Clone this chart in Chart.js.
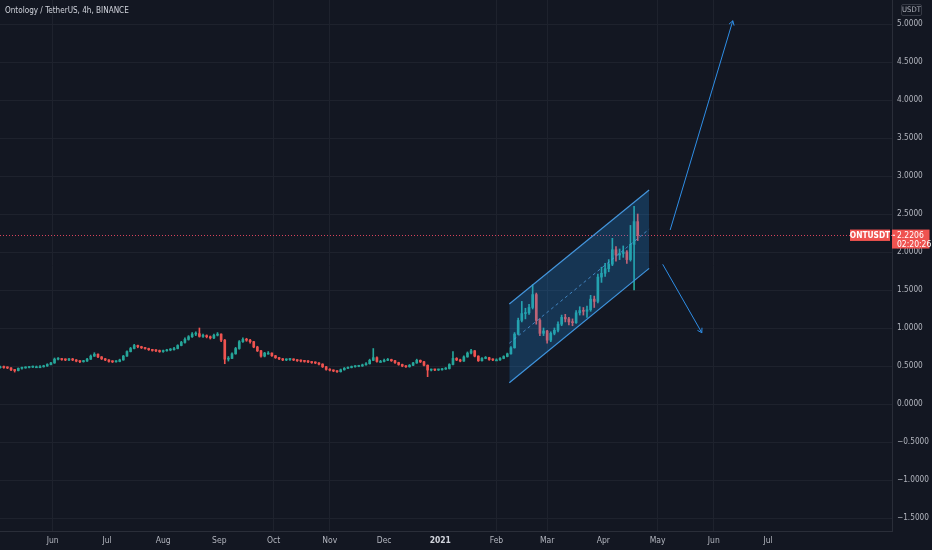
<!DOCTYPE html>
<html><head><meta charset="utf-8">
<style>
html,body{margin:0;padding:0;background:#131722;overflow:hidden}
#wrap{position:relative;width:932px;height:550px}
#c{position:absolute;left:0;top:0}
#title{position:absolute;left:5px;top:5px;font:8.1px "Liberation Sans Narrow","DejaVu Sans Condensed","Liberation Sans",sans-serif;line-height:10px;color:#d1d4dc;white-space:nowrap}
#unit{position:absolute;left:901px;top:4px;width:21px;height:12px;border:1px solid #363a45;border-radius:2px;box-sizing:border-box;font:7.6px "Liberation Sans Narrow","DejaVu Sans Condensed",sans-serif;color:#b2b5be;text-align:center;line-height:10px}
</style>
<script src="https://cdn.jsdelivr.net/npm/chart.js@4.4.0/dist/chart.umd.min.js"></script>
</head><body>
<div id="wrap"><canvas id="c" width="932" height="550"></canvas>
<div id="title">Ontology / TetherUS, 4h, BINANCE</div><div id="unit">USDT</div></div>
<script>
// ---- data (day 0 = 1 Jun 2020, candles every 2 days) ----
const firstCandleDay = -29;
const candleStepDays = 2;
const opens = [.49,.49,.48,.475,.45,.44,.47,.475,.48,.485,
.49,.49,.49,.50,.52,.54,.59,.595,.585,.58,
.59,.58,.565,.557,.565,.59,.63,.655,.62,.595,
.58,.56,.555,.56,.58,.63,.69,.73,.77,.755,
.74,.73,.715,.705,.70,.69,.70,.71,.715,.73,
.77,.81,.85,.885,.92,.925,.89,.90,.885,.87,
.905,.92,.84,.59,.60,.66,.73,.82,.85,.84,
.82,.75,.70,.63,.67,.67,.635,.61,.595,.58,
.585,.59,.58,.57,.565,.56,.555,.545,.54,.525,
.49,.455,.445,.435,.425,.45,.47,.48,.49,.495,
.50,.515,.53,.575,.61,.56,.56,.575,.585,.57,
.545,.52,.50,.49,.51,.54,.575,.555,.51,.447,
.45,.448,.45,.46,.467,.52,.60,.58,.565,.62,
.67,.70,.63,.57,.60,.61,.585,.58,.58,.60,
.625,.66,.74,.92,1.10,1.19,1.20,1.27,1.44,1.10,
.93,.96,.84,.93,.97,1.05,1.14,1.12,1.08,1.07,
1.20,1.23,1.22,1.24,1.38,1.35,1.67,1.72,1.78,1.84,
2.03,1.96,1.98,2.00,1.90,2.10,2.40];
const highs = [.50,.50,.49,.48,.455,.475,.485,.49,.495,.50,
.50,.505,.51,.53,.55,.605,.61,.60,.595,.60,
.60,.585,.57,.575,.60,.645,.675,.66,.625,.60,
.585,.57,.57,.59,.64,.70,.745,.785,.775,.76,
.745,.735,.72,.715,.71,.71,.72,.73,.745,.78,
.825,.87,.90,.94,.95,1.00,.92,.91,.895,.92,
.94,.925,.85,.625,.675,.745,.835,.87,.865,.85,
.825,.76,.705,.68,.69,.675,.64,.615,.60,.595,
.60,.595,.585,.58,.575,.57,.56,.555,.545,.53,
.495,.465,.45,.44,.46,.48,.49,.50,.505,.51,
.525,.545,.59,.73,.62,.575,.59,.60,.59,.575,
.55,.525,.505,.52,.55,.59,.58,.56,.515,.46,
.46,.46,.47,.48,.53,.69,.61,.59,.635,.685,
.72,.705,.635,.61,.625,.615,.595,.595,.61,.635,
.67,.755,.94,1.13,1.35,1.26,1.31,1.57,1.46,1.12,
1.00,.97,.95,1.00,1.08,1.17,1.18,1.14,1.12,1.23,
1.28,1.27,1.29,1.43,1.42,1.71,1.80,1.85,1.90,2.18,
2.07,2.04,2.08,2.02,2.35,2.60,2.50];
const lows = [.47,.47,.465,.44,.42,.435,.46,.47,.475,.48,
.48,.48,.485,.495,.515,.535,.58,.575,.57,.57,
.57,.555,.545,.55,.56,.585,.625,.61,.585,.57,
.55,.545,.55,.555,.575,.625,.685,.725,.74,.73,
.72,.705,.695,.69,.68,.68,.695,.70,.71,.725,
.765,.80,.84,.875,.90,.88,.875,.87,.855,.86,
.895,.82,.53,.565,.595,.655,.72,.81,.825,.80,
.74,.69,.615,.62,.655,.625,.60,.585,.57,.57,
.575,.57,.56,.555,.55,.545,.535,.53,.515,.48,
.445,.435,.425,.415,.42,.445,.465,.475,.485,.49,
.495,.51,.525,.57,.55,.55,.555,.57,.56,.535,
.51,.49,.48,.485,.505,.535,.545,.50,.36,.435,
.44,.44,.445,.455,.46,.515,.57,.555,.56,.615,
.66,.62,.56,.565,.595,.575,.57,.57,.575,.595,
.62,.655,.735,.91,1.08,1.12,1.18,1.25,1.05,.90,
.90,.80,.82,.91,.95,1.03,1.08,1.04,1.03,1.06,
1.17,1.17,1.14,1.22,1.27,1.33,1.60,1.68,1.74,1.82,
1.88,1.90,1.93,1.85,1.88,1.50,2.15];
const closes = [.49,.48,.475,.45,.44,.47,.475,.48,.485,.49,
.49,.49,.50,.52,.54,.59,.595,.585,.58,.59,
.58,.565,.557,.565,.59,.63,.655,.62,.595,.58,
.56,.555,.56,.58,.63,.69,.73,.77,.755,.74,
.73,.715,.705,.70,.69,.70,.71,.715,.73,.77,
.81,.85,.885,.92,.925,.89,.90,.885,.87,.905,
.92,.84,.59,.60,.66,.73,.82,.85,.84,.82,
.75,.70,.63,.67,.67,.635,.61,.595,.58,.585,
.59,.58,.57,.565,.56,.555,.545,.54,.525,.49,
.455,.445,.435,.425,.45,.47,.48,.49,.495,.50,
.515,.53,.575,.61,.56,.56,.575,.585,.57,.545,
.52,.50,.49,.51,.54,.575,.555,.51,.447,.45,
.448,.45,.46,.467,.52,.60,.58,.565,.62,.67,
.70,.63,.57,.60,.61,.585,.58,.58,.60,.625,
.66,.74,.92,1.10,1.19,1.20,1.27,1.44,1.10,.93,
.96,.84,.93,.97,1.05,1.14,1.12,1.08,1.07,1.20,
1.23,1.22,1.24,1.38,1.35,1.67,1.72,1.78,1.84,2.03,
1.96,1.98,2.00,1.90,2.10,2.40,2.22];
const lastPrice = 2.2206;
const lastPriceText = "2.2206";
const countdownText = "02:20:26";
const symbolText = "ONTUSDT";

// drawings (day, price)
const channelDays = [252.1, 329.3];
const channelUpper = [1.315, 2.816];
const channelLower = [0.28, 1.785];
const channelMid = [0.80, 2.30];
const arrowUpDays = [340.9, 375.5];
const arrowUpPrices = [2.289, 5.043];
const arrowDownDays = [336.8, 358.4];
const arrowDownPrices = [1.838, 0.938];

// axes
const monthDays = [0,30,61,92,122,153,183,214,245,273,304,334,365,395];
const monthLabels = ["Jun","Jul","Aug","Sep","Oct","Nov","Dec","2021","Feb","Mar","Apr","May","Jun","Jul"];
const yTickValues = [5,4.5,4,3.5,3,2.5,2,1.5,1,0.5,0,-0.5,-1,-1.5];
const yTickLabels = ["5.0000","4.5000","4.0000","3.5000","3.0000","2.5000","2.0000","1.5000","1.0000","0.5000","0.0000","\u22120.5000","\u22121.0000","\u22121.5000"];

// ---- build ----
const UP = '#26a69a', DOWN = '#ef5350';
const FONT = '"Liberation Sans Narrow","DejaVu Sans Condensed","Liberation Sans",sans-serif';
const candleDays = closes.map((_, i) => firstCandleDay + i * candleStepDays);
const dirColors = closes.map((c, i) => c >= opens[i] ? UP : DOWN);
const wickData = candleDays.map((d, i) => ({x: d, y: [lows[i], highs[i]]}));
const bodyData = candleDays.map((d, i) => ({x: d, y: [opens[i], closes[i]]}));
const pts = (xs, ys) => xs.map((x, i) => ({x, y: ys[i]}));
const gridMonthIdx = [0,4,5,8,9,11,12];

const pricePlugin = {
  id: 'priceLine',
  beforeDatasetsDraw(chart) {
    const {ctx, chartArea, scales} = chart;
    const py = Math.round(scales.y.getPixelForValue(lastPrice)) + 0.5;
    ctx.save();
    ctx.strokeStyle = 'rgba(226,70,96,0.95)';
    ctx.lineWidth = 1;
    ctx.setLineDash([1, 2]);
    ctx.beginPath(); ctx.moveTo(chartArea.left, py); ctx.lineTo(chartArea.right, py); ctx.stroke();
    ctx.restore();
  },
  afterDraw(chart) {
    const {ctx, chartArea, scales} = chart;
    const py = scales.y.getPixelForValue(lastPrice);
    ctx.save();
    ctx.fillStyle = '#ef5350';
    ctx.fillRect(chartArea.right - 42, py - 5.7, 40, 11.4);
    ctx.fillRect(chartArea.right, py - 5.7, 37.5, 19);
    ctx.fillStyle = '#ffffff';
    ctx.fillRect(chartArea.right + 0.5, py - 0.5, 2.5, 1);
    ctx.font = 'bold 8.3px ' + FONT;
    ctx.textBaseline = 'middle';
    ctx.textAlign = 'center';
    ctx.fillText(symbolText, chartArea.right - 22, py + 0.3);
    ctx.font = '8.5px ' + FONT;
    ctx.textAlign = 'left';
    ctx.fillText(lastPriceText, chartArea.right + 5, py + 0.5);
    ctx.fillText(countdownText, chartArea.right + 5, py + 9.8);
    ctx.restore();
  }
};
const arrowPlugin = {
  id: 'arrows',
  afterDatasetsDraw(chart) {
    const ctx = chart.ctx;
    [3, 4].forEach(i => {
      const p = chart.getDatasetMeta(i).data;
      const a = p[0], b = p[1];
      const ang = Math.atan2(b.y - a.y, b.x - a.x);
      const L = 5, w = 0.55;
      ctx.save();
      ctx.strokeStyle = '#2f8ee6'; ctx.lineWidth = 1;
      ctx.beginPath();
      ctx.moveTo(b.x - L * Math.cos(ang - w), b.y - L * Math.sin(ang - w));
      ctx.lineTo(b.x, b.y);
      ctx.lineTo(b.x - L * Math.cos(ang + w), b.y - L * Math.sin(ang + w));
      ctx.stroke();
      ctx.restore();
    });
  }
};

new Chart(document.getElementById('c'), {
  type: 'bar',
  data: {
    datasets: [
      {type: 'line', data: pts(channelDays, channelUpper), borderColor: '#4496dd', borderWidth: 1.2, pointRadius: 0,
       fill: {target: 1}, backgroundColor: 'rgba(33,150,243,0.24)', order: 0},
      {type: 'line', data: pts(channelDays, channelLower), borderColor: '#4496dd', borderWidth: 1.2, pointRadius: 0, fill: false, order: 0},
      {type: 'line', data: pts(channelDays, channelMid), borderColor: 'rgba(100,170,235,0.7)', borderWidth: 1, borderDash: [3, 3], pointRadius: 0, fill: false, order: 0},
      {type: 'line', data: pts(arrowUpDays, arrowUpPrices), borderColor: '#2f8ee6', borderWidth: 1, pointRadius: 0, fill: false, order: 0},
      {type: 'line', data: pts(arrowDownDays, arrowDownPrices), borderColor: '#2f8ee6', borderWidth: 1, pointRadius: 0, fill: false, order: 0},
      {data: wickData, backgroundColor: dirColors, barThickness: 1, grouped: false, order: 5},
      {data: bodyData, backgroundColor: dirColors, barThickness: 2, minBarLength: 1, grouped: false, order: 4}
    ]
  },
  options: {
    responsive: false,
    animation: false,
    events: [],
    layout: {padding: 0},
    plugins: {legend: {display: false}, tooltip: {enabled: false}, title: {display: false}},
    scales: {
      x: {
        type: 'linear', position: 'bottom', min: -29.1, max: 463.4, offset: false,
        afterBuildTicks: s => { s.ticks = monthDays.map(v => ({value: v})); },
        afterFit: s => { s.height = 19; s.paddingLeft = 0; s.paddingRight = 0; },
        grid: {offset: false, drawTicks: false, color: c => gridMonthIdx.includes(c.index) ? '#1e222d' : 'rgba(0,0,0,0)', lineWidth: 1},
        border: {display: true, color: '#2a2e39'},
        ticks: {
          autoSkip: false, maxRotation: 0, minRotation: 0, padding: 5,
          callback: (v, i) => monthLabels[i],
          color: c => c.index === 7 ? '#d1d4dc' : '#b2b5be',
          font: c => ({family: FONT, size: 8.5, weight: c.index === 7 ? 'bold' : 'normal'})
        }
      },
      y: {
        type: 'linear', position: 'right', min: -1.671, max: 5.316,
        afterBuildTicks: s => { s.ticks = yTickValues.map(v => ({value: v})); },
        afterFit: s => { s.width = 40; s.paddingTop = 0; s.paddingBottom = 0; },
        grid: {drawTicks: false, color: '#1e222d', lineWidth: 1},
        border: {display: true, color: '#2a2e39'},
        ticks: {padding: 5, color: '#b2b5be', font: {family: FONT, size: 8.2},
          callback: (v, i) => yTickLabels[i]}
      }
    }
  },
  plugins: [pricePlugin, arrowPlugin]
});
</script>
</body></html>
